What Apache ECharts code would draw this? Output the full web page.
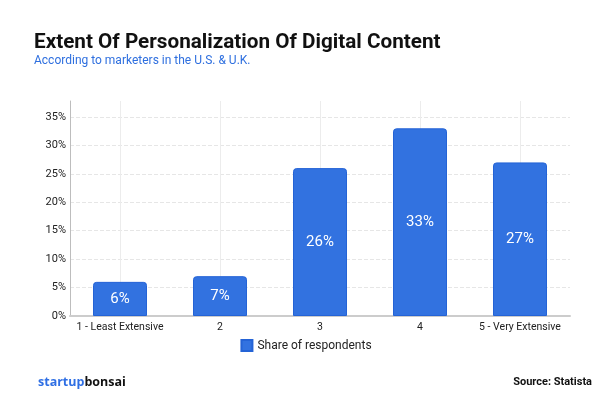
<!DOCTYPE html>
<html>
<head>
<meta charset="utf-8">
<script src="https://cdn.jsdelivr.net/npm/echarts@6/dist/echarts.min.js"></script>
<style>
  html, body { margin: 0; padding: 0; background: #fff; }
  #chart { width: 612px; height: 397px; }
</style>
</head>
<body>
<div id="chart"></div>
<script>
// categories & values
const categories = ['1 - Least Extensive', '2', '3', '4', '5 - Very Extensive'];
const shareValues = [6, 7, 26, 33, 27];
const seriesName = 'Share of respondents';

const chart = echarts.init(document.getElementById('chart'));

const option = {
  backgroundColor: '#fff',
  animation: false,
  title: [
    {
      text: 'Extent Of Personalization Of Digital Content',
      left: 34, top: 32, padding: 0,
      textStyle: { fontFamily: 'Roboto', fontWeight: 'bold', fontSize: 20.7, color: '#111' }
    },
    {
      text: 'According to marketers in the U.S. & U.K.',
      left: 34, top: 55, padding: 0,
      textStyle: { fontFamily: 'Roboto', fontWeight: 'normal', fontSize: 12, color: '#2e6fdf' }
    },
    {
      text: '{b|startup}{k|bonsai}',
      left: 38, top: 376, padding: 0,
      textStyle: {
        rich: {
          b: { fontFamily: 'Open Sans', fontWeight: 'bold', fontSize: 12.5, color: '#2f6fe4' },
          k: { fontFamily: 'Open Sans', fontWeight: 'bold', fontSize: 12.5, color: '#111' }
        }
      }
    },
    {
      text: '{b|Source:}{n| Statista}',
      right: 20, top: 377, padding: 0,
      textStyle: {
        rich: {
          b: { fontFamily: 'Roboto', fontWeight: 'bold', fontSize: 11, color: '#111' },
          n: { fontFamily: 'Roboto', fontSize: 11, color: '#111' }
        }
      }
    }
  ],
  legend: {
    data: [seriesName],
    bottom: 40, left: 'center',
    itemWidth: 11, itemHeight: 11, itemGap: 2,
    icon: 'rect',
    textStyle: { fontFamily: 'Roboto', fontSize: 12, color: '#222', padding: [0, 0, 0, 0] }
  },
  grid: { left: 70, right: 42, top: 101, bottom: 81 },
  xAxis: {
    type: 'category',
    data: categories,
    axisLine: { lineStyle: { color: '#cccccc', width: 2 } },
    axisTick: { show: false },
    axisLabel: { fontFamily: 'Roboto', fontSize: 10.5, color: '#222', margin: 6, interval: 0 },
    splitLine: { show: true, alignWithLabel: true, lineStyle: { color: '#ececec', width: 1 } }
  },
  yAxis: {
    type: 'value',
    min: 0, max: 37.8, interval: 5,
    axisLine: { show: true, lineStyle: { color: '#bdbdbd', width: 1 } },
    axisTick: { show: false },
    axisLabel: {
      fontFamily: 'Roboto', fontSize: 11, color: '#222', margin: 4,
      showMaxLabel: false,
      formatter: v => v + '%'
    },
    splitLine: {
      show: true,
      lineStyle: {
        type: [4, 2],
        color: ['#e6e6e6', '#e6e6e6', '#e6e6e6', '#e6e6e6', '#e6e6e6', '#e6e6e6', '#e6e6e6', '#e6e6e6', 'rgba(0,0,0,0)']
      }
    }
  },
  series: [{
    name: seriesName,
    type: 'bar',
    data: shareValues,
    barWidth: 54,
    itemStyle: {
      color: '#3272e0',
      borderColor: '#2463d6',
      borderWidth: 1,
      borderRadius: [3, 3, 0, 0]
    },
    label: {
      show: true,
      position: 'inside',
      formatter: p => p.value + '%',
      fontFamily: 'Roboto', fontSize: 15, color: '#fff'
    }
  }]
};

chart.setOption(option);
</script>
</body>
</html>
